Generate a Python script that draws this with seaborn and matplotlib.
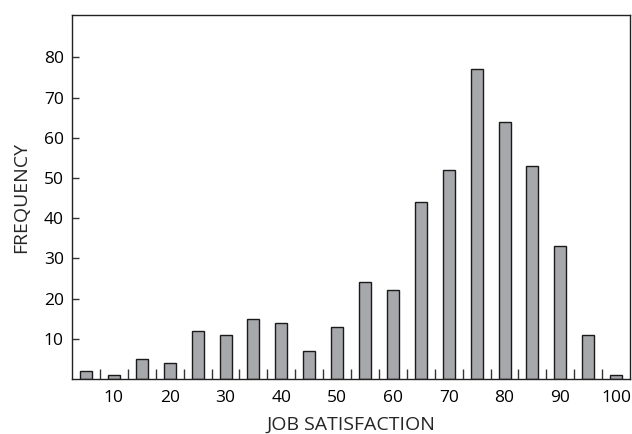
import matplotlib
matplotlib.use("Agg")
import matplotlib.pyplot as plt
import seaborn as sns
import pandas as pd
import numpy as np

scores = [5, 10, 15, 20, 25, 30, 35, 40, 45, 50, 55, 60, 65, 70, 75, 80, 85, 90, 95, 100]
freqs = [2, 1, 5, 4, 12, 11, 15, 14, 7, 13, 24, 22, 44, 52, 77, 64, 53, 33, 11, 1]
xtick_labels = [10, 20, 30, 40, 50, 60, 70, 80, 90, 100]
ytick_labels = [10, 20, 30, 40, 50, 60, 70, 80]

sns.set_style("white")
plt.rcParams['font.family'] = ['Open Sans', 'DejaVu Sans']
plt.rcParams['text.color'] = '#000000'
plt.rcParams['xtick.color'] = '#333333'
plt.rcParams['ytick.color'] = '#333333'
plt.rcParams['xtick.labelcolor'] = '#000000'
plt.rcParams['ytick.labelcolor'] = '#000000'

df = pd.DataFrame({"score": scores, "freq": freqs})

fig = plt.figure(figsize=(6.32, 4.34), dpi=100)
ax = fig.add_axes([0.114, 0.127, 0.883, 0.838])
sns.barplot(data=df, x="score", y="freq", native_scale=True, width=0.43,
            color="#a7a8ac", edgecolor="#1a1a1a", linewidth=1.0, saturation=1, ax=ax)

ax.set_xlim(2.5, 102.5)
ax.set_ylim(0, 90.5)
ax.set_xticks(xtick_labels)
ax.set_xticklabels([str(v) for v in xtick_labels], fontsize=12.5)
ax.set_xticks([s + 2.5 for s in scores[:-1]], minor=True)
ax.tick_params(axis='x', which='major', length=0, pad=8)
ax.tick_params(axis='x', which='minor', direction='in', length=7, width=1, bottom=True)
ax.set_yticks(ytick_labels)
ax.set_yticklabels([str(v) for v in ytick_labels], fontsize=12.5)
ax.tick_params(axis='y', which='major', direction='in', length=5, width=1, left=True, pad=6)

for sp in ax.spines.values():
    sp.set_visible(True)
    sp.set_color('#222222')
    sp.set_linewidth(1.0)

ax.set_xlabel("JOB SATISFACTION", fontsize=14, labelpad=7)
ax.set_ylabel("FREQUENCY", fontsize=14, labelpad=10)

fig.savefig("out.png", dpi=100)
